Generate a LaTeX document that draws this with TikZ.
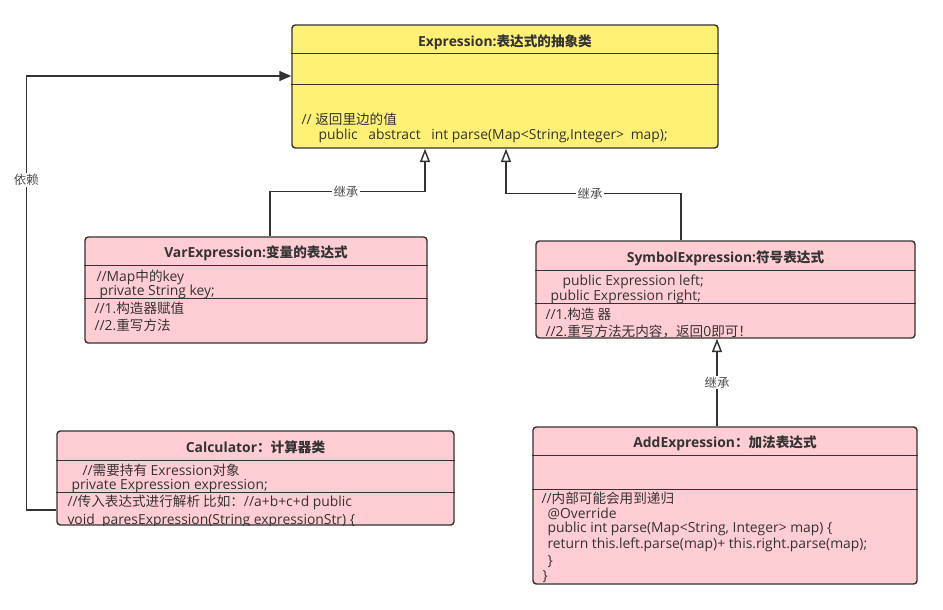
\documentclass[tikz,border=0pt]{standalone}
\usepackage{fontspec}
\setmainfont{Open Sans}[Scale=1.02]
\newfontfamily\cjk{Noto Sans CJK SC}
\newcommand{\zh}[1]{{\cjk #1}}
\usetikzlibrary{arrows.meta,calc,fit}
\definecolor{yelfill}{RGB}{255,241,118}
\definecolor{pinkfill}{RGB}{255,205,211}
\definecolor{edgec}{RGB}{51,51,51}
\definecolor{txtc}{RGB}{51,51,51}
\tikzstyle{cls} = [draw=edgec, line width=1.1pt, rounded corners=2.5pt, inner sep=0pt]
\tikzstyle{head} = [font=\fontsize{10.2}{12}\selectfont\bfseries, text=txtc, inner sep=0pt]
\tikzstyle{txt} = [anchor=west, font=\fontsize{10.2}{12}\selectfont, text=txtc, inner sep=0pt]
\tikzstyle{divline} = [draw=edgec, line width=1.1pt]
\tikzstyle{inherit} = [draw=edgec, line width=1.1pt, -{Triangle[open, width=7.5pt, length=10pt]}]
\tikzstyle{depend} = [draw=edgec, line width=1.1pt, -{Triangle[width=7.5pt, length=9pt]}]
\tikzstyle{lbl} = [fill=white, inner sep=1pt, font=\fontsize{9.3}{10}\selectfont\cjk, text=black!70]
\begin{document}
\begin{tikzpicture}[x=0.75pt, y=-0.75pt]
\fill[white] (0,0) rectangle (943,610);

% abstract class
\node [cls, fill=yelfill, fit={(292,25) (718,148)}] (expr) {};
\node [head] at ($(expr.north)+(0,18)$) {Expression:\zh{表达式的抽象类}};
\draw [divline] ($(expr.north west)+(0,29)$) -- ($(expr.north east)+(0,29)$);
\draw [divline] ($(expr.north west)+(0,60)$) -- ($(expr.north east)+(0,60)$);
\node [txt] at ($(expr.north west)+(10,95)$) {// \zh{返回里边的值}};
\node [txt] at ($(expr.north west)+(27,112)$) {public\hspace{8pt}abstract\hspace{8pt}int parse(Map<String,Integer>\hspace{5pt}map);};

% VarExpression
\node [cls, fill=pinkfill, fit={(85,237) (427,343)}] (var) {};
\node [head] at ($(var.north)+(0,17)$) {VarExpression:\zh{变量的表达式}};
\node [txt] at ($(var.north west)+(12,41)$) {//Map\zh{中的}key};
\node [txt] at ($(var.north west)+(15,56)$) {private String key;};
\node [txt] at ($(var.north west)+(10,72)$) {//1.\zh{构造器赋值}};
\node [txt] at ($(var.north west)+(10,89)$) {//2.\zh{重写方法}};
\draw [divline] ($(var.north west)+(0,29)$) -- ($(var.north east)+(0,29)$);
\draw [divline] ($(var.north west)+(0,62)$) -- ($(var.north east)+(0,62)$);

% SymbolExpression
\node [cls, fill=pinkfill, fit={(536,241) (915,338)}] (sym) {};
\node [head] at ($(sym.north)+(0,18)$) {SymbolExpression:\zh{符号表达式}};
\node [txt] at ($(sym.north west)+(27,42)$) {public Expression left;};
\node [txt] at ($(sym.north west)+(15,57)$) {public Expression right;};
\node [txt] at ($(sym.north west)+(10,74)$) {//1.\zh{构造 器}};
\node [txt] at ($(sym.north west)+(10,91)$) {//2.\zh{重写方法无内容，返回}0\zh{即可！}};
\draw [divline] ($(sym.north west)+(0,30)$) -- ($(sym.north east)+(0,30)$);
\draw [divline] ($(sym.north west)+(0,63)$) -- ($(sym.north east)+(0,63)$);

% Calculator
\node [cls, fill=pinkfill, fit={(57,431) (454,525)}] (calc) {};
\node [head] at ($(calc.north)+(0,17)$) {Calculator\zh{：计算器类}};
\node [txt] at ($(calc.north west)+(26,40)$) {//\zh{需要持有} Exression\zh{对象}};
\node [txt] at ($(calc.north west)+(15,56)$) {private Expression expression;};
\node [txt] at ($(calc.north west)+(11,72)$) {//\zh{传入表达式进行解析 比如：}//a+b+c+d public};
\begin{scope}
\clip (calc.south west) rectangle (calc.north east);
\node [txt] at ($(calc.north west)+(11,91)$) {void\ \ paresExpression(String expressionStr) \{};
\end{scope}
\draw [divline] ($(calc.north west)+(0,30)$) -- ($(calc.north east)+(0,30)$);
\draw [divline] ($(calc.north west)+(0,62)$) -- ($(calc.north east)+(0,62)$);

% AddExpression
\node [cls, fill=pinkfill, fit={(533,427) (917,584)}] (add) {};
\node [head] at ($(add.north)+(0,17)$) {AddExpression\zh{：加法表达式}};
\node [txt] at ($(add.north west)+(9,72)$) {//\zh{内部可能会用到递归}};
\node [txt] at ($(add.north west)+(15,88)$) {@Override};
\node [txt] at ($(add.north west)+(15,103)$) {public int parse(Map<String, Integer> map) \{};
\node [txt] at ($(add.north west)+(15,119)$) {return this.left.parse(map)+ this.right.parse(map);};
\node [txt] at ($(add.north west)+(15,135)$) {\}};
\node [txt] at ($(add.north west)+(10,150)$) {\}};
\draw [divline] ($(add.north west)+(0,29)$) -- ($(add.north east)+(0,29)$);
\draw [divline] ($(add.north west)+(0,63)$) -- ($(add.north east)+(0,63)$);

% connectors
\draw [inherit] ($(var.north)+(14,0)$) -- ++(0,-45) -| node [lbl, pos=0.245] {继承} ($(expr.south)+(-80,0)$);
\draw [inherit] ($(sym.north)+(-44.5,0)$) -- ++(0,-47) -| node [lbl, pos=0.26] {继承} ($(expr.south)+(1,0)$);
\draw [inherit] ($(add.north)+(-8,0)$) coordinate (a) -- node [lbl] {继承} (a |- sym.south);
\draw [depend] ($(calc.west)+(0,32)$) -- ++(-30,0) |- node [lbl, pos=0.38] {依赖} ($(expr.west)+(0,-10.5)$);

\end{tikzpicture}
\end{document}
